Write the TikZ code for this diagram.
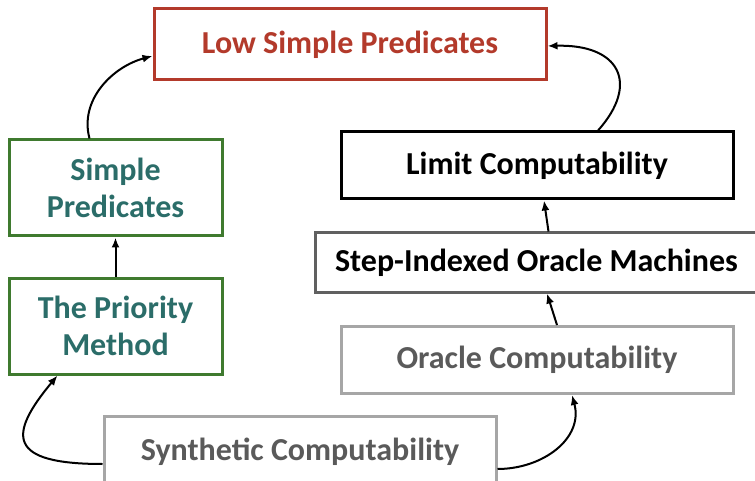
\documentclass[tikz,border=0pt]{standalone}
\usepackage{fontspec}
\setmainfont{Carlito}
\usetikzlibrary{arrows.meta}
\definecolor{cred}{HTML}{B33A2B}
\definecolor{cgreen}{HTML}{3F7A2F}
\definecolor{cteal}{HTML}{2B6D69}
\definecolor{cgtext}{HTML}{5A5A5A}
\definecolor{cgline}{HTML}{A6A6A6}
\definecolor{cdline}{HTML}{606060}
\begin{document}
\begin{tikzpicture}[x=1pt,y=-1pt,
  box/.style={draw,line width=3pt,inner sep=0pt,align=center,
    font=\fontsize{32}{37}\selectfont\bfseries},
  redbox/.style={box,draw=cred,text=cred},
  greenbox/.style={box,draw=cgreen,text=cteal},
  blackbox/.style={box,draw=black,text=black},
  darkbox/.style={box,draw=cdline,text=black},
  graybox/.style={box,draw=cgline,text=cgtext},
  arr/.style={line width=2pt,-{Latex[length=10pt,width=8pt]}}]
\clip (0,0) rectangle (755,481);
\fill[white] (0,0) rectangle (755,481);

\node[redbox,minimum width=392pt,minimum height=71pt] (low) at (350,44.5) {Low Simple Predicates};
\node[greenbox,minimum width=213pt,minimum height=96pt] (simple) at (115.5,188) {Simple\\Predicates};
\node[greenbox,minimum width=213pt,minimum height=96pt] (prio) at (115.5,326) {The Priority\\Method};
\node[blackbox,minimum width=392pt,minimum height=67pt] (limit) at (537,165.5) {Limit Computability};
\node[darkbox,minimum width=446pt,minimum height=59pt] (step) at (538,262.5) {\hspace*{-3pt}Step-Indexed Oracle Machines};
\node[graybox,minimum width=392pt,minimum height=72pt] (synth) at (300,452) {\raisebox{5pt}{Synthetic Computability}};
\node[graybox,minimum width=392pt,minimum height=67pt] (oracle) at (537,360) {Oracle Computability};

\draw[arr] (prio.north) -- (simple.south);
\draw[arr] ([yshift=-12pt]synth.west) .. controls +(-95,0) and +(-50,60) .. ([xshift=-58pt]prio.south);
\draw[arr] ([yshift=-17pt]synth.east) to[out=0,in=285,looseness=1.1] ([xshift=35pt]oracle.south);
\draw[arr] ([xshift=-26pt]simple.north) to[out=105,in=195,looseness=1.0] ([yshift=-11.5pt]low.west);
\draw[arr] ([xshift=61pt]limit.north) .. controls +(42,-47) and +(72,-2) .. ([yshift=-1.5pt]low.east);
\draw[arr] ([xshift=10.5pt]step.north) -- ([xshift=7pt]limit.south);
\draw[arr] ([xshift=20pt]oracle.north) -- ([xshift=9pt]step.south);
\end{tikzpicture}
\end{document}
